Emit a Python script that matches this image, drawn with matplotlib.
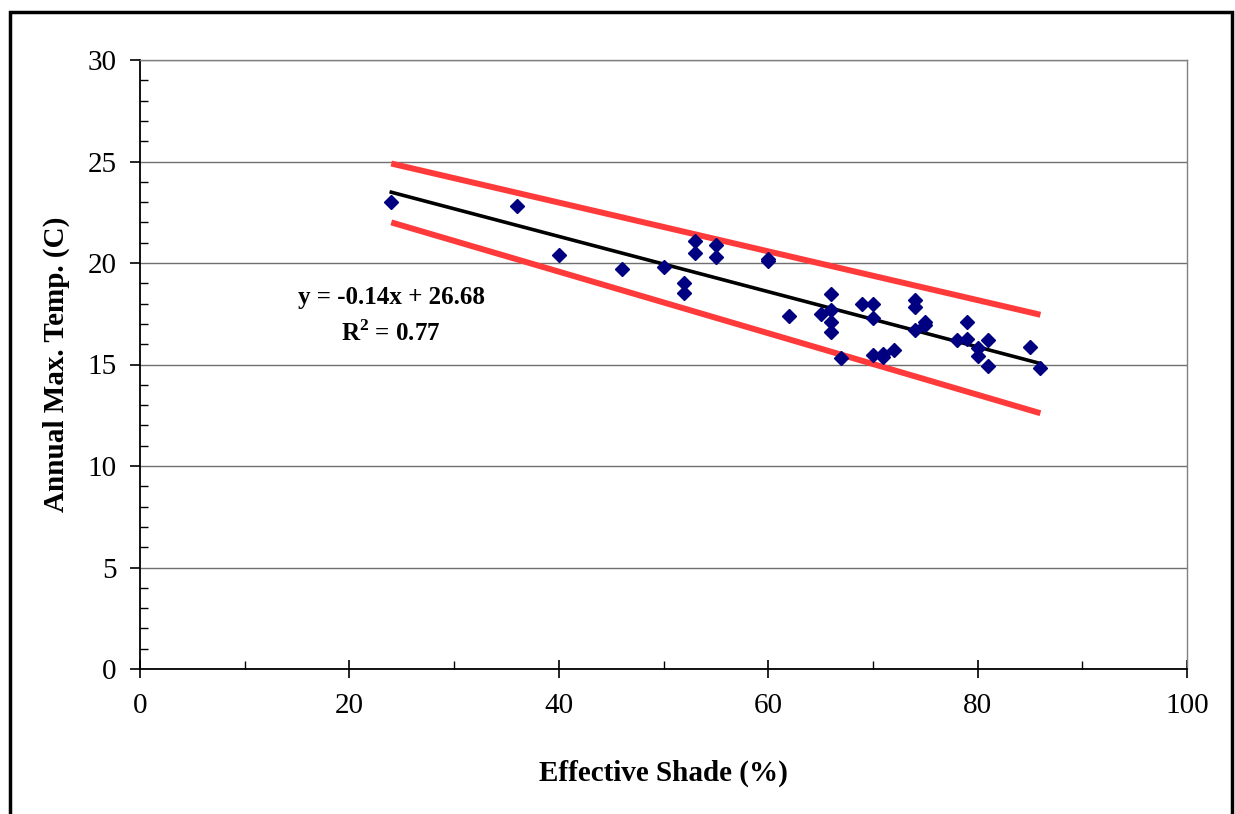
import numpy as np
import matplotlib
matplotlib.use("Agg")
import matplotlib.pyplot as plt
from matplotlib.patches import Rectangle
from matplotlib.ticker import MultipleLocator

# ---------- data ----------
shade = [24, 36, 40, 46, 50, 52, 52, 53, 53, 55, 55, 60, 60, 62,
         65, 66, 66, 66, 66, 67, 69, 70, 70, 70, 71, 71, 72,
         74, 74, 74, 75, 75, 78, 79, 79, 80, 80, 81, 81, 85, 86]
tmax = [23.0, 22.8, 20.4, 19.7, 19.8, 19.0, 18.5, 21.1, 20.5, 20.9, 20.3, 20.2, 20.1, 17.4,
        17.5, 18.45, 17.7, 17.1, 16.6, 15.3, 18.0, 18.0, 17.3, 15.45, 15.35, 15.5, 15.7,
        18.2, 17.85, 16.7, 17.1, 16.95, 16.2, 17.1, 16.25, 15.8, 15.4, 16.2, 14.95, 15.85, 14.85]

band_x = [24, 86]
band_upper = [24.9, 17.45]
band_lower = [22.0, 12.6]

fit_x = [24, 86]
eq_text = "y = -0.14x + 26.68"
r2_text = "R$^\\mathbf{2}$ = 0.77"

# ---------- figure ----------
plt.rcParams["font.family"] = ["Liberation Serif", "DejaVu Serif"]
plt.rcParams["mathtext.fontset"] = "custom"
plt.rcParams["mathtext.rm"] = "Liberation Serif"
plt.rcParams["mathtext.bf"] = "Liberation Serif:bold"

fig = plt.figure(figsize=(12.35, 8.14), dpi=100)
ax = fig.add_axes([140 / 1235, 145 / 814, 1047 / 1235, 609 / 814])

# outer frame
fig.patches.append(Rectangle((10 / 1235, -0.05), 1222 / 1235, 0.05 + 802 / 814,
                             transform=fig.transFigure, fill=False,
                             edgecolor="black", linewidth=2.5))

ax.set_xlim(0, 100)
ax.set_ylim(0, 30)
ax.yaxis.set_major_locator(MultipleLocator(5))
ax.yaxis.set_minor_locator(MultipleLocator(1))
ax.xaxis.set_major_locator(MultipleLocator(20))
ax.xaxis.set_minor_locator(MultipleLocator(10))

ax.grid(axis="y", which="major", color="#707070", linewidth=1.0)
ax.set_axisbelow(True)
for s in ["top", "right"]:
    ax.spines[s].set_color("#808080")
    ax.spines[s].set_linewidth(1.0)
for s in ["left", "bottom"]:
    ax.spines[s].set_color("black")
    ax.spines[s].set_linewidth(1.3)

ax.tick_params(which="major", direction="out", length=7, width=1.2, labelsize=21)
ax.tick_params(which="minor", direction="in", length=6, width=1.0)
ax.tick_params(axis="x", which="major", direction="inout", length=13, pad=11)
ax.tick_params(axis="y", which="major", pad=10)

# bands, fit, points
ax.plot(band_x, band_upper, color="#FF3A3A", linewidth=4.3, solid_capstyle="butt")
ax.plot(band_x, band_lower, color="#FF3A3A", linewidth=4.3, solid_capstyle="butt")

slope, intercept = np.polyfit(shade, tmax, 1)
fx = np.array(fit_x, dtype=float)
ax.plot(fx, slope * fx + intercept, color="black", linewidth=2.6)

ax.plot(shade, tmax, linestyle="none", marker="D", markersize=7.4,
        color="#000080", zorder=5)

ax.text(24, 18.3, eq_text, ha="center", va="center", fontsize=18, fontweight="bold")
ax.text(24, 16.55, r2_text, ha="center", va="center", fontsize=18, fontweight="bold")

ax.set_xlabel("Effective Shade (%)", fontsize=21, fontweight="bold", labelpad=29)
ax.set_ylabel("Annual Max. Temp. (C)", fontsize=21, fontweight="bold", labelpad=12)

fig.savefig("out.png", dpi=100)
